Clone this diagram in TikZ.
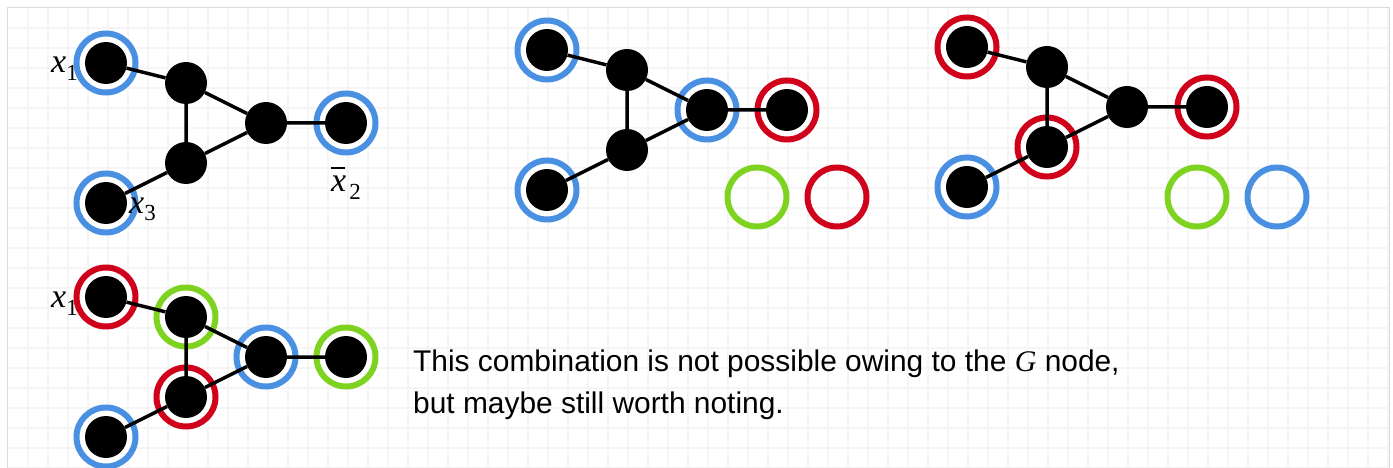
\documentclass[tikz,border=0pt]{standalone}
\usepackage{fontspec}
\setmainfont{Liberation Sans}
\newfontfamily\serifit{Liberation Serif}

\definecolor{ringblue}{HTML}{4A90E2}
\definecolor{ringred}{HTML}{D0021B}
\definecolor{ringgreen}{HTML}{7ED321}
\definecolor{gridgray}{HTML}{F5F5F5}
\definecolor{framegray}{HTML}{DCDCDC}

% subscript digit for the variable labels
\newcommand\subdig[2]{\kern#1\raisebox{-8pt}{\upshape\fontsize{23}{23}\selectfont #2}}

\tikzset{
  dot/.style={circle, fill=black, minimum size=42pt, inner sep=0pt},
  halo/.style={circle, draw=#1, line width=6pt, fill=white, minimum size=59pt, inner sep=0pt},
  hollow/.style={circle, draw=#1, line width=6pt, minimum size=59pt, inner sep=0pt},
  bond/.style={line width=3.5pt},
  varlab/.style={inner sep=0pt, anchor=base west, font=\serifit\itshape\fontsize{34}{34}\selectfont},
  note/.style={inner sep=0pt, anchor=base west, font=\fontsize{29.9}{42}\selectfont},
}

\begin{document}
\begin{tikzpicture}[x=1pt, y=-1pt]
\useasboundingbox (0,0) rectangle (1393,468);

% background grid and frame
\foreach \gx in {28,48,...,1388} \draw[gridgray, line width=2pt] (\gx,8) -- (\gx,468);
\foreach \gy in {28,48,...,468} \draw[gridgray, line width=2pt] (8,\gy) -- (1389,\gy);
\draw[framegray, line width=1.5pt] (7.5,468) -- (7.5,7.5) -- (1389.5,7.5) -- (1389.5,468);

% ---------- graph 1 ----------
\begin{scope}[shift={(106,63)}]
  \node[halo=ringblue] (g1ha) at (0,0) {};
  \node[halo=ringblue] (g1he) at (240,60) {};
  \node[halo=ringblue] (g1hf) at (0,140) {};
  \node[dot] (g1a) at (0,0) {};
  \node[dot] (g1b) at (80,20) {};
  \node[dot] (g1c) at (80,100) {};
  \node[dot] (g1d) at (160,60) {};
  \node[dot] (g1e) at (240,60) {};
  \node[dot] (g1f) at (0,140) {};
\end{scope}
\draw[bond] (g1a) -- (g1b) (g1b) -- (g1c) (g1b) -- (g1d) (g1c) -- (g1d) (g1d) -- (g1e) (g1c) -- (g1f);
\node[varlab] (l1) at (51,73) {x\subdig{0pt}{1}};
\node[varlab] (l3) at (129,213) {x\subdig{0pt}{3}};
\node[varlab] (l2) at (331,192) {\rlap{\raisebox{23pt}{\rule{14pt}{2pt}}}x\subdig{3pt}{2}};

% ---------- graph 2 ----------
\begin{scope}[shift={(547,50)}]
  \node[halo=ringblue] (g2ha) at (0,0) {};
  \node[halo=ringblue] (g2hd) at (160,60) {};
  \node[halo=ringred] (g2he) at (240,60) {};
  \node[halo=ringblue] (g2hf) at (0,140) {};
  \node[dot] (g2a) at (0,0) {};
  \node[dot] (g2b) at (80,20) {};
  \node[dot] (g2c) at (80,100) {};
  \node[dot] (g2d) at (160,60) {};
  \node[dot] (g2e) at (240,60) {};
  \node[dot] (g2f) at (0,140) {};
\end{scope}
\draw[bond] (g2a) -- (g2b) (g2b) -- (g2c) (g2b) -- (g2d) (g2c) -- (g2d) (g2d) -- (g2e) (g2c) -- (g2f);
\node[hollow=ringgreen] (g2p) at (757,197) {};
\node[hollow=ringred] (g2q) at (837,197) {};

% ---------- graph 3 ----------
\begin{scope}[shift={(967,47)}]
  \node[halo=ringred] (g3ha) at (0,0) {};
  \node[halo=ringred] (g3hc) at (80,100) {};
  \node[halo=ringred] (g3he) at (240,60) {};
  \node[halo=ringblue] (g3hf) at (0,140) {};
  \node[dot] (g3a) at (0,0) {};
  \node[dot] (g3b) at (80,20) {};
  \node[dot] (g3c) at (80,100) {};
  \node[dot] (g3d) at (160,60) {};
  \node[dot] (g3e) at (240,60) {};
  \node[dot] (g3f) at (0,140) {};
\end{scope}
\draw[bond] (g3a) -- (g3b) (g3b) -- (g3c) (g3b) -- (g3d) (g3c) -- (g3d) (g3d) -- (g3e) (g3c) -- (g3f);
\node[hollow=ringgreen] (g3p) at (1197,197) {};
\node[hollow=ringblue] (g3q) at (1277,197) {};

% ---------- graph 4 ----------
\begin{scope}[shift={(106,297)}]
  \node[halo=ringred] (g4ha) at (0,0) {};
  \node[halo=ringgreen] (g4hb) at (80,20) {};
  \node[halo=ringred] (g4hc) at (80,100) {};
  \node[halo=ringblue] (g4hd) at (160,60) {};
  \node[halo=ringgreen] (g4he) at (240,60) {};
  \node[halo=ringblue] (g4hf) at (0,140) {};
  \node[dot] (g4a) at (0,0) {};
  \node[dot] (g4b) at (80,20) {};
  \node[dot] (g4c) at (80,100) {};
  \node[dot] (g4d) at (160,60) {};
  \node[dot] (g4e) at (240,60) {};
  \node[dot] (g4f) at (0,140) {};
\end{scope}
\draw[bond] (g4a) -- (g4b) (g4b) -- (g4c) (g4b) -- (g4d) (g4c) -- (g4d) (g4d) -- (g4e) (g4c) -- (g4f);
\node[varlab] (l4) at (51,307) {x\subdig{0pt}{1}};

% remark
\node[note] (note1) at (413,371) {This combination is not possible owing to the {\serifit\itshape G} node,};
\node[note] (note2) at (413,413) {but maybe still worth noting.};
\end{tikzpicture}
\end{document}
